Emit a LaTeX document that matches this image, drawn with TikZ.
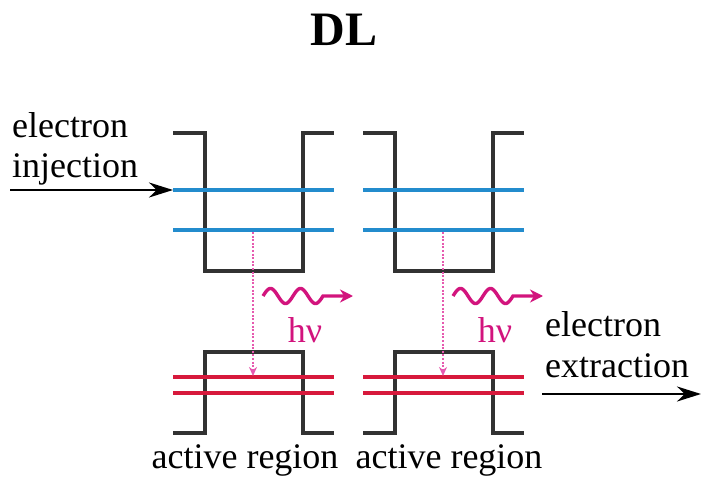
\documentclass[tikz,border=0pt]{standalone}
\usepackage{fontspec}
\setmainfont{Liberation Serif}
\usetikzlibrary{arrows.meta}
\definecolor{wellgray}{RGB}{50,50,50}
\definecolor{lvlblue}{RGB}{35,140,205}
\definecolor{lvlred}{RGB}{215,25,60}
\definecolor{photon}{RGB}{210,20,125}
\definecolor{photonlight}{RGB}{230,90,175}
\tikzset{
  band/.style={draw=wellgray,line width=3.4pt,line join=miter},
  elev/.style={draw=lvlblue,line width=3.2pt},
  hlev/.style={draw=lvlred,line width=3.2pt},
  trans/.style={draw=photonlight,line width=1.8pt,dash pattern=on 2pt off 1.6pt,-{Stealth[length=9pt,width=8pt]}},
  wave/.style={draw=photon,line width=3.4pt,-{Stealth[length=13pt,width=13pt]}},
  flow/.style={draw=black,line width=2.6pt,-{Stealth[length=24pt,width=15pt]}},
  lbl/.style={font=\fontsize{36}{40}\selectfont,inner sep=0pt},
}
\begin{document}
\begin{tikzpicture}[x=1pt,y=-1pt]
\useasboundingbox (0,0) rectangle (701,478);
\node[font=\bfseries\fontsize{48}{52}\selectfont,anchor=base,inner sep=0pt] (title) at (344,46) {DL};
\node[lbl,anchor=base west] (inj1) at (12,138) {electron};
\node[lbl,anchor=base west] (inj2) at (12,178) {injection};
\node[lbl,anchor=base west] (ext1) at (545,336) {electron};
\node[lbl,anchor=base west] (ext2) at (545,377) {extraction};
\coordinate (injS) at (10,190);
\coordinate (injE) at (173,190);
\coordinate (extS) at (542,394);
\coordinate (extE) at (701,394);
\draw[flow] (injS) -- (injE);
\draw[flow] (extS) -- (extE);
\foreach \s/\n in {0/a,190/b}{
  \begin{scope}[xshift=\s pt]
    \draw[band] (173,133) -- (205,133) -- (205,271) -- (303,271) -- (303,133) -- (334,133);
    \draw[band] (173,433) -- (205,433) -- (205,352) -- (303,352) -- (303,433) -- (334,433);
    \draw[elev] (173,190) -- (334,190);
    \draw[elev] (173,230) -- (334,230);
    \draw[hlev] (173,377) -- (334,377);
    \draw[hlev] (173,393) -- (334,393);
    \coordinate (t1\n) at (253,232);
    \coordinate (t2\n) at (253,376);
    \draw[trans] (t1\n) -- (t2\n);
    \draw[wave] plot[domain=0:60,samples=80,smooth] ({263+\x},{296-7.5*sin(\x*12)}) -- (353,296);
    \node[font=\fontsize{36}{40}\selectfont,text=photon,anchor=base,inner sep=0pt] (hv\n) at (305,342) {hν};
  \end{scope}
}
\node[lbl,anchor=base] (ara) at (245,468) {active region};
\node[lbl,anchor=base] (arb) at (449,468) {active region};
\end{tikzpicture}
\end{document}
